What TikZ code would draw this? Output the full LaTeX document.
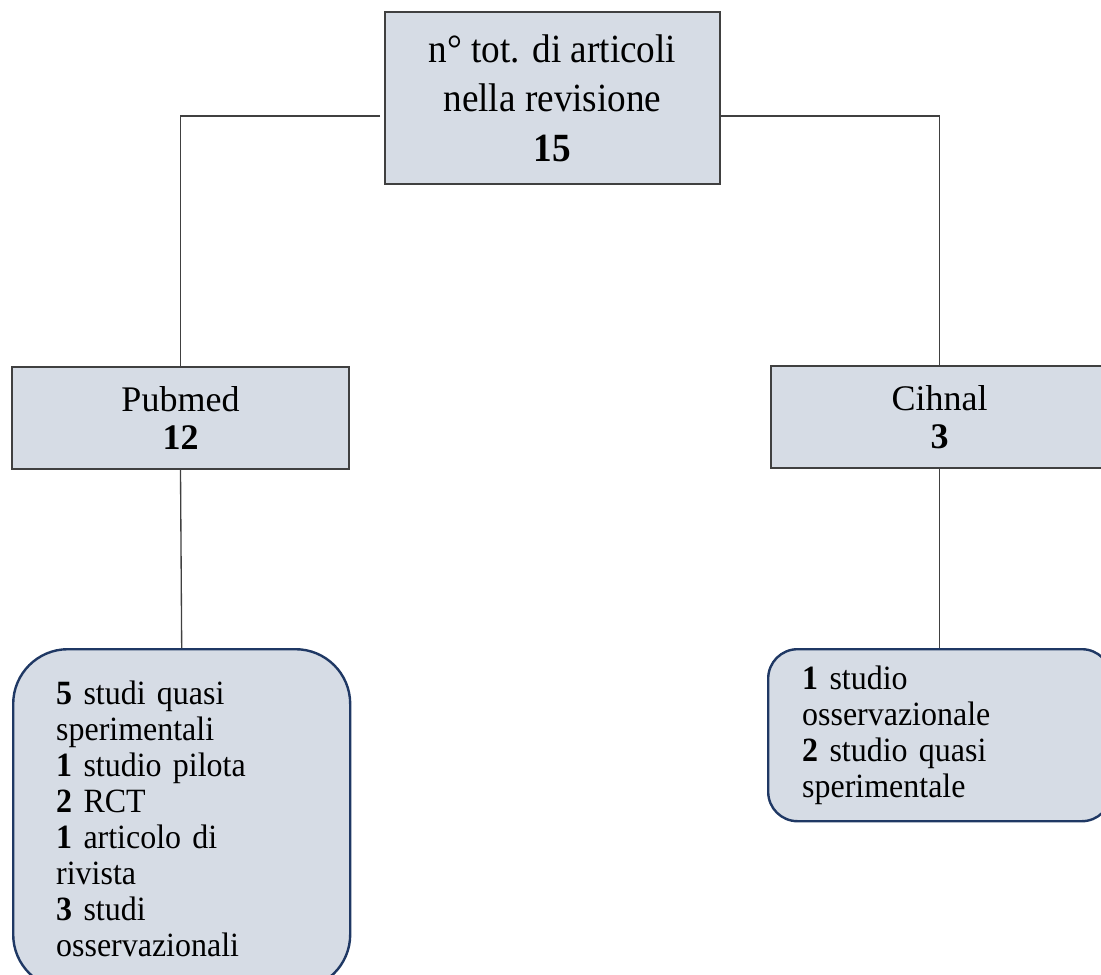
\documentclass[tikz,border=0pt]{standalone}
\usepackage{fontspec}
\setmainfont{Liberation Serif}
\newfontfamily\narrowserif[FakeStretch=0.93]{Liberation Serif}
\newfontfamily\detserif[FakeStretch=0.94]{Liberation Serif}
\usepackage{xcolor}
\usetikzlibrary{positioning,calc}
\definecolor{boxfill}{HTML}{D6DCE5}
\definecolor{boxline}{HTML}{404040}
\definecolor{detline}{HTML}{1F3864}

\begin{document}
\begin{tikzpicture}[x=0.75pt,y=-0.75pt,
  dbbox/.style={draw=boxline,line width=1.1pt,fill=boxfill,align=center,inner sep=0pt},
  detbox/.style={draw=detline,line width=1.8pt,fill=boxfill,align=left,inner ysep=0pt,anchor=north west,font=\detserif\fontsize{25.5}{27}\selectfont},
  link/.style={draw=boxline,line width=1pt}]
\useasboundingbox (0,0) rectangle (1101,975);

% total
\node[dbbox,minimum width=251.25pt,minimum height=129pt,font=\narrowserif\fontsize{30}{37}\selectfont] (tot) at (552.5,98) {n° tot. di articoli\\nella revisione\\\textbf{15}};

% databases
\node[dbbox,minimum width=252.75pt,minimum height=76.5pt,font=\fontsize{27}{28.5}\selectfont] (pub) at (180.5,418) {Pubmed\\\textbf{12}};
\node[dbbox,minimum width=252.75pt,minimum height=76.5pt,font=\fontsize{27}{28.5}\selectfont] (cih) at (939.5,417) {Cihnal\\\textbf{3}};

% study types
\node[detbox,rounded corners=41pt,text width=188.25pt,inner xsep=32.25pt,minimum height=255pt] (pubdet) at (12,648) {\textbf{5} studi quasi\\sperimentali\\\textbf{1} studio pilota\\\textbf{2} RCT\\\textbf{1} articolo di\\rivista\\\textbf{3} studi\\osservazionali};
\node[detbox,rounded corners=22pt,text width=206.25pt,inner xsep=25.5pt,minimum height=129pt] (cihdet) at (767,648) {\textbf{1} studio\\osservazionale\\\textbf{2} studio quasi\\sperimentale};

% links
\coordinate (tl) at (380,116);
\coordinate (tr) at (720,116);
\draw[link] (tl) -| (pub.north);
\draw[link] (tr) -| (cih.north);
\draw[link] (pub.south) -- (pubdet.north);
\draw[link] (cih.south) -- (cih.south |- cihdet.north);
\end{tikzpicture}
\end{document}
